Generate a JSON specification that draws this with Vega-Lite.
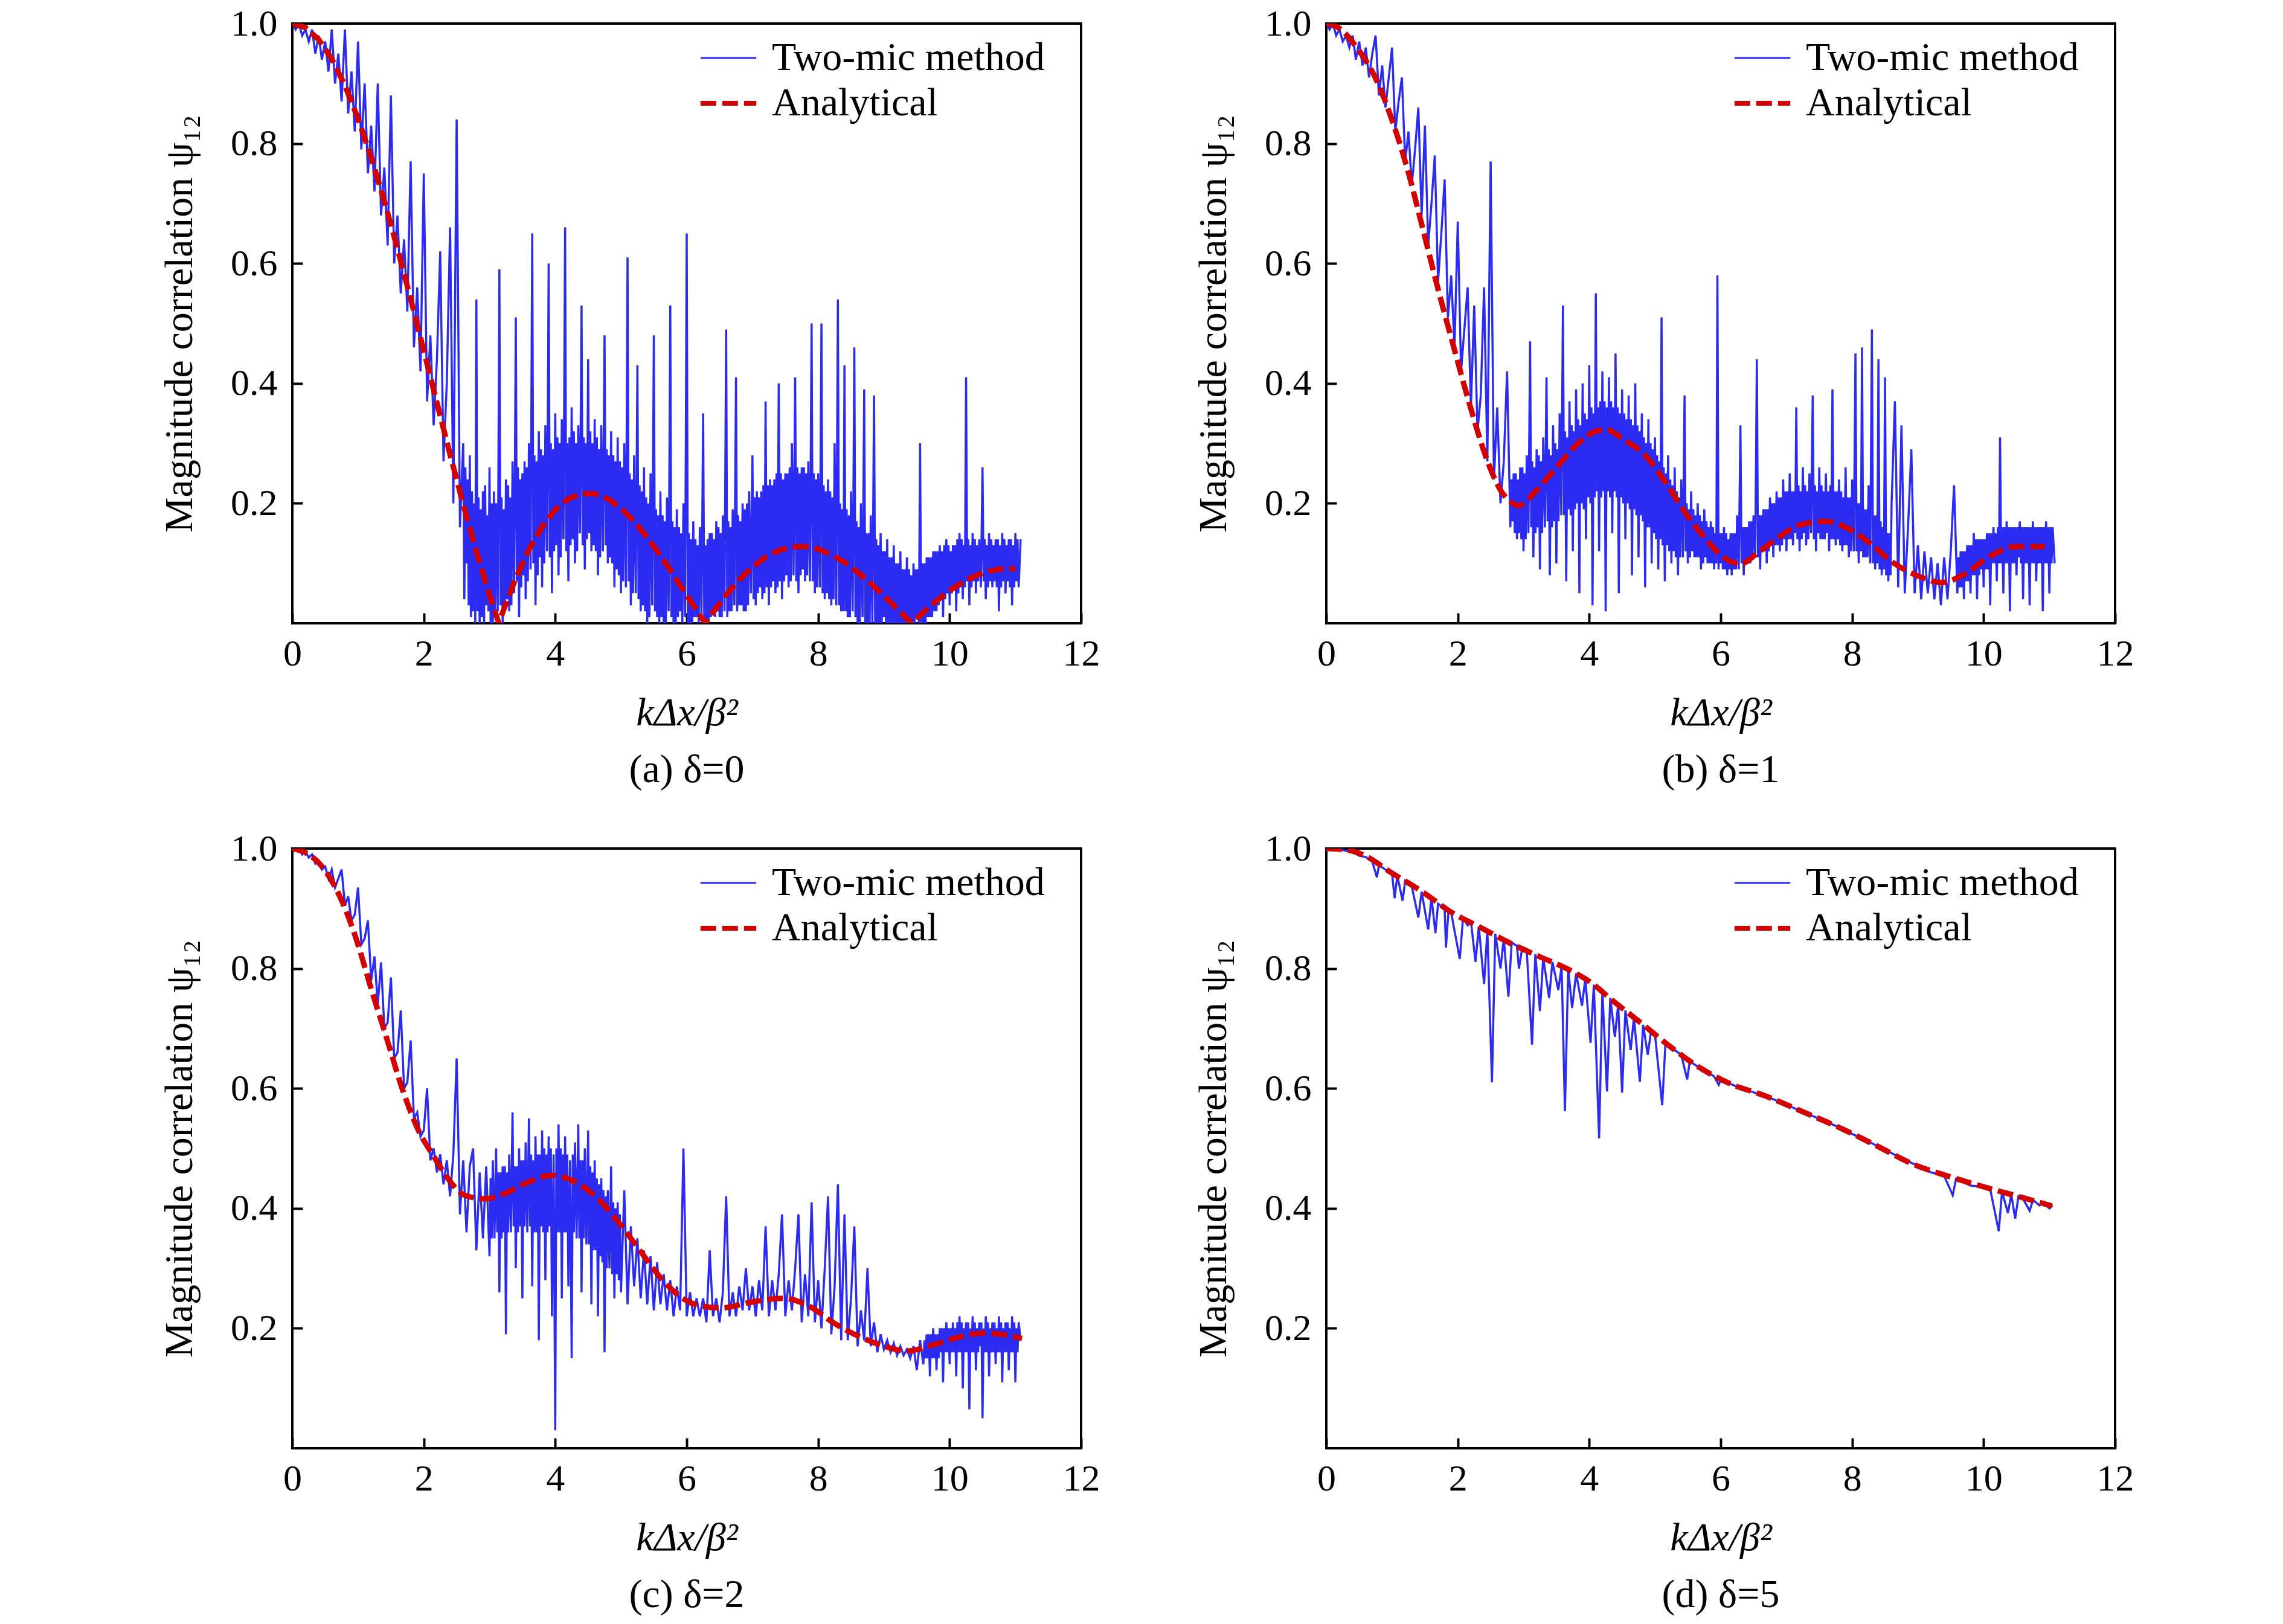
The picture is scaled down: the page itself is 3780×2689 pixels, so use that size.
{
"$schema": "https://vega.github.io/schema/vega-lite/v6.json",
"background": "white",
"padding": {"left": 262, "top": 6, "right": 0, "bottom": 0},
"config": {
  "font": "Liberation Serif",
  "view": {"stroke": "black", "strokeWidth": 4},
  "axis": {"labelFont": "Liberation Serif", "labelFontSize": 62, "labelColor": "black", "titleFont": "Liberation Serif", "titleFontSize": 66, "titleFontWeight": "normal", "titleColor": "black", "domain": false, "grid": false, "ticks": true, "tickSize": -17, "tickWidth": 4, "tickColor": "black", "labelFlush": false},
  "axisX": {"labelPadding": 37, "titlePadding": 35},
  "axisY": {"labelPadding": 42, "titlePadding": 50},
  "title": {"font": "Liberation Serif", "fontSize": 66, "fontWeight": "normal", "color": "black", "orient": "bottom", "offset": 30},
  "legend": {"labelFont": "Liberation Serif", "labelFontSize": 66, "labelColor": "black", "padding": 0, "labelLimit": 2000}
},
"datasets": {
"a_two": [{"x":0,"y":1},{"x":0.05,"y":0.99},{"x":0.1,"y":1},{"x":0.15,"y":0.98},{"x":0.2,"y":0.99},{"x":0.25,"y":0.97},{"x":0.3,"y":0.99},{"x":0.35,"y":0.95},{"x":0.4,"y":0.98},{"x":0.45,"y":0.94},{"x":0.5,"y":0.97},{"x":0.55,"y":0.92},{"x":0.6,"y":0.99},{"x":0.65,"y":0.9},{"x":0.7,"y":0.95},{"x":0.75,"y":0.87},{"x":0.8,"y":0.99},{"x":0.85,"y":0.85},{"x":0.9,"y":0.92},{"x":0.95,"y":0.82},{"x":1,"y":0.97},{"x":1.05,"y":0.79},{"x":1.1,"y":0.9},{"x":1.15,"y":0.75},{"x":1.2,"y":0.83},{"x":1.25,"y":0.72},{"x":1.3,"y":0.9},{"x":1.35,"y":0.68},{"x":1.4,"y":0.76},{"x":1.45,"y":0.63},{"x":1.5,"y":0.88},{"x":1.55,"y":0.6},{"x":1.6,"y":0.68},{"x":1.65,"y":0.55},{"x":1.7,"y":0.64},{"x":1.75,"y":0.52},{"x":1.8,"y":0.77},{"x":1.85,"y":0.46},{"x":1.9,"y":0.56},{"x":1.95,"y":0.42},{"x":2,"y":0.75},{"x":2.05,"y":0.37},{"x":2.1,"y":0.48},{"x":2.15,"y":0.33},{"x":2.2,"y":0.44},{"x":2.25,"y":0.62},{"x":2.3,"y":0.27},{"x":2.35,"y":0.4},{"x":2.4,"y":0.66},{"x":2.45,"y":0.2},{"x":2.5,"y":0.84},{"x":2.55,"y":0.16},{"x":2.6,"y":0.3},{"x":2.65,"y":0.1},{"x":2.7,"y":0.28},{"x":2.75,"y":0.02},{"x":2.8,"y":0.54},{"x":2.85,"y":0},{"x":2.9,"y":0.22},{"x":2.95,"y":0.03},{"x":3,"y":0.26},{"x":3.05,"y":0},{"x":3.1,"y":0.2},{"x":3.15,"y":0.59},{"x":3.2,"y":0},{"x":3.25,"y":0.24},{"x":3.3,"y":0.02},{"x":3.35,"y":0.27},{"x":3.4,"y":0.51},{"x":3.45,"y":0.01},{"x":3.5,"y":0.25},{"x":3.55,"y":0.04},{"x":3.6,"y":0.3},{"x":3.65,"y":0.65},{"x":3.7,"y":0.03},{"x":3.75,"y":0.32},{"x":3.8,"y":0.06},{"x":3.85,"y":0.33},{"x":3.9,"y":0.6},{"x":3.95,"y":0.05},{"x":4,"y":0.35},{"x":4.05,"y":0.08},{"x":4.1,"y":0.34},{"x":4.15,"y":0.66},{"x":4.2,"y":0.07},{"x":4.25,"y":0.36},{"x":4.3,"y":0.1},{"x":4.35,"y":0.33},{"x":4.4,"y":0.53},{"x":4.45,"y":0.09},{"x":4.5,"y":0.44},{"x":4.55,"y":0.12},{"x":4.6,"y":0.34},{"x":4.65,"y":0.08},{"x":4.7,"y":0.33},{"x":4.75,"y":0.48},{"x":4.8,"y":0.1},{"x":4.85,"y":0.32},{"x":4.9,"y":0.06},{"x":4.95,"y":0.31},{"x":5,"y":0.05},{"x":5.05,"y":0.3},{"x":5.1,"y":0.61},{"x":5.15,"y":0.03},{"x":5.2,"y":0.28},{"x":5.25,"y":0.43},{"x":5.3,"y":0.02},{"x":5.35,"y":0.26},{"x":5.4,"y":0},{"x":5.45,"y":0.25},{"x":5.5,"y":0.48},{"x":5.55,"y":0.01},{"x":5.6,"y":0.22},{"x":5.65,"y":0},{"x":5.7,"y":0.21},{"x":5.75,"y":0.53},{"x":5.8,"y":0},{"x":5.85,"y":0.19},{"x":5.9,"y":0.02},{"x":5.95,"y":0.2},{"x":6,"y":0.65},{"x":6.05,"y":0},{"x":6.1,"y":0.17},{"x":6.15,"y":0.01},{"x":6.2,"y":0.16},{"x":6.25,"y":0.35},{"x":6.3,"y":0},{"x":6.35,"y":0.15},{"x":6.4,"y":0.02},{"x":6.45,"y":0.17},{"x":6.5,"y":0.01},{"x":6.55,"y":0.18},{"x":6.6,"y":0.49},{"x":6.65,"y":0.02},{"x":6.7,"y":0.19},{"x":6.75,"y":0.41},{"x":6.8,"y":0.03},{"x":6.85,"y":0.2},{"x":6.9,"y":0.02},{"x":6.95,"y":0.22},{"x":7,"y":0.28},{"x":7.05,"y":0.03},{"x":7.1,"y":0.21},{"x":7.15,"y":0.04},{"x":7.2,"y":0.37},{"x":7.25,"y":0.03},{"x":7.3,"y":0.23},{"x":7.35,"y":0.05},{"x":7.4,"y":0.4},{"x":7.45,"y":0.04},{"x":7.5,"y":0.25},{"x":7.55,"y":0.06},{"x":7.6,"y":0.3},{"x":7.65,"y":0.41},{"x":7.7,"y":0.05},{"x":7.75,"y":0.26},{"x":7.8,"y":0.07},{"x":7.85,"y":0.27},{"x":7.9,"y":0.5},{"x":7.95,"y":0.05},{"x":8,"y":0.25},{"x":8.05,"y":0.5},{"x":8.1,"y":0.04},{"x":8.15,"y":0.24},{"x":8.2,"y":0.03},{"x":8.25,"y":0.3},{"x":8.3,"y":0.54},{"x":8.35,"y":0.02},{"x":8.4,"y":0.43},{"x":8.45,"y":0.01},{"x":8.5,"y":0.22},{"x":8.55,"y":0.46},{"x":8.6,"y":0},{"x":8.65,"y":0.2},{"x":8.7,"y":0.39},{"x":8.75,"y":0},{"x":8.8,"y":0.18},{"x":8.85,"y":0.38},{"x":8.9,"y":0},{"x":8.95,"y":0.15},{"x":9,"y":0.01},{"x":9.05,"y":0.14},{"x":9.1,"y":0},{"x":9.15,"y":0.13},{"x":9.2,"y":0},{"x":9.25,"y":0.12},{"x":9.3,"y":0},{"x":9.35,"y":0.11},{"x":9.4,"y":0},{"x":9.45,"y":0.1},{"x":9.5,"y":0.01},{"x":9.55,"y":0.3},{"x":9.6,"y":0},{"x":9.65,"y":0.11},{"x":9.7,"y":0.01},{"x":9.75,"y":0.12},{"x":9.8,"y":0.02},{"x":9.85,"y":0.13},{"x":9.9,"y":0.01},{"x":9.95,"y":0.14},{"x":10,"y":0.03},{"x":10.05,"y":0.13},{"x":10.1,"y":0.02},{"x":10.15,"y":0.15},{"x":10.2,"y":0.04},{"x":10.25,"y":0.41},{"x":10.3,"y":0.03},{"x":10.35,"y":0.15},{"x":10.4,"y":0.05},{"x":10.45,"y":0.14},{"x":10.5,"y":0.26},{"x":10.55,"y":0.04},{"x":10.6,"y":0.15},{"x":10.65,"y":0.06},{"x":10.7,"y":0.14},{"x":10.75,"y":0.02},{"x":10.8,"y":0.15},{"x":10.85,"y":0.05},{"x":10.9,"y":0.14},{"x":10.95,"y":0.03},{"x":11,"y":0.15},{"x":11.05,"y":0.06},{"x":11.08,"y":0.14},
{"x":2.617,"y":0.04},{"x":2.633,"y":0.26},{"x":2.667,"y":0.24},{"x":2.683,"y":0.03},{"x":2.717,"y":0.01},{"x":2.733,"y":0.22},{"x":2.767,"y":0.2},{"x":2.783,"y":0},{"x":2.817,"y":0.02},{"x":2.833,"y":0.21},{"x":2.867,"y":0.19},{"x":2.883,"y":0.01},{"x":2.917,"y":0},{"x":2.933,"y":0.23},{"x":2.967,"y":0.18},{"x":2.983,"y":0.02},{"x":3.017,"y":0},{"x":3.033,"y":0.2},{"x":3.067,"y":0.22},{"x":3.083,"y":0.01},{"x":3.125,"y":0.02},{"x":3.167,"y":0.03},{"x":3.183,"y":0.21},{"x":3.217,"y":0.19},{"x":3.233,"y":0.02},{"x":3.267,"y":0.04},{"x":3.283,"y":0.23},{"x":3.317,"y":0.21},{"x":3.333,"y":0.03},{"x":3.375,"y":0.05},{"x":3.417,"y":0.07},{"x":3.433,"y":0.26},{"x":3.467,"y":0.24},{"x":3.483,"y":0.06},{"x":3.517,"y":0.08},{"x":3.533,"y":0.27},{"x":3.567,"y":0.26},{"x":3.583,"y":0.07},{"x":3.625,"y":0.09},{"x":3.667,"y":0.1},{"x":3.683,"y":0.28},{"x":3.717,"y":0.27},{"x":3.733,"y":0.08},{"x":3.767,"y":0.11},{"x":3.783,"y":0.29},{"x":3.817,"y":0.28},{"x":3.833,"y":0.1},{"x":3.875,"y":0.12},{"x":3.917,"y":0.11},{"x":3.933,"y":0.3},{"x":3.967,"y":0.29},{"x":3.983,"y":0.12},{"x":4.017,"y":0.13},{"x":4.033,"y":0.31},{"x":4.067,"y":0.3},{"x":4.083,"y":0.11},{"x":4.125,"y":0.14},{"x":4.167,"y":0.12},{"x":4.183,"y":0.3},{"x":4.217,"y":0.31},{"x":4.233,"y":0.13},{"x":4.267,"y":0.14},{"x":4.283,"y":0.32},{"x":4.317,"y":0.3},{"x":4.333,"y":0.12},{"x":4.375,"y":0.15},{"x":4.417,"y":0.13},{"x":4.433,"y":0.31},{"x":4.467,"y":0.3},{"x":4.483,"y":0.14},{"x":4.517,"y":0.15},{"x":4.533,"y":0.32},{"x":4.567,"y":0.3},{"x":4.583,"y":0.13},{"x":4.617,"y":0.12},{"x":4.633,"y":0.31},{"x":4.667,"y":0.29},{"x":4.683,"y":0.11},{"x":4.725,"y":0.12},{"x":4.767,"y":0.13},{"x":4.783,"y":0.29},{"x":4.817,"y":0.28},{"x":4.833,"y":0.11},{"x":4.867,"y":0.1},{"x":4.883,"y":0.28},{"x":4.917,"y":0.27},{"x":4.933,"y":0.09},{"x":4.967,"y":0.08},{"x":4.983,"y":0.27},{"x":5.017,"y":0.26},{"x":5.033,"y":0.07},{"x":5.075,"y":0.06},{"x":5.117,"y":0.07},{"x":5.133,"y":0.25},{"x":5.167,"y":0.24},{"x":5.183,"y":0.05},{"x":5.225,"y":0.05},{"x":5.267,"y":0.04},{"x":5.283,"y":0.23},{"x":5.317,"y":0.22},{"x":5.333,"y":0.03},{"x":5.367,"y":0.02},{"x":5.383,"y":0.21},
{"x":5.417,"y":0.2},{"x":5.433,"y":0.01},{"x":5.475,"y":0.03},{"x":5.517,"y":0.02},{"x":5.533,"y":0.19},{"x":5.567,"y":0.18},{"x":5.583,"y":0},{"x":5.617,"y":0.01},{"x":5.633,"y":0.18},{"x":5.667,"y":0.17},{"x":5.683,"y":0},{"x":5.725,"y":0.02},{"x":5.767,"y":0.01},{"x":5.783,"y":0.17},{"x":5.817,"y":0.16},{"x":5.833,"y":0},{"x":5.867,"y":0.01},{"x":5.883,"y":0.16},{"x":5.917,"y":0.15},{"x":5.933,"y":0},{"x":5.975,"y":0.01},{"x":6.017,"y":0},{"x":6.033,"y":0.15},{"x":6.067,"y":0.14},{"x":6.083,"y":0},{"x":6.117,"y":0.01},{"x":6.133,"y":0.14},{"x":6.167,"y":0.13},{"x":6.183,"y":0},{"x":6.225,"y":0.01},{"x":6.267,"y":0},{"x":6.283,"y":0.13},{"x":6.317,"y":0.14},{"x":6.333,"y":0},{"x":6.367,"y":0.01},{"x":6.383,"y":0.15},{"x":6.417,"y":0.14},{"x":6.433,"y":0.01},{"x":6.467,"y":0.02},{"x":6.483,"y":0.16},{"x":6.517,"y":0.15},{"x":6.533,"y":0.01},{"x":6.575,"y":0.02},{"x":6.617,"y":0.01},{"x":6.633,"y":0.17},{"x":6.667,"y":0.16},{"x":6.683,"y":0.02},{"x":6.725,"y":0.03},{"x":6.767,"y":0.02},{"x":6.783,"y":0.18},{"x":6.817,"y":0.17},{"x":6.833,"y":0.03},{"x":6.867,"y":0.02},{"x":6.883,"y":0.19},
{"x":6.917,"y":0.2},{"x":6.933,"y":0.03},{"x":6.975,"y":0.05},{"x":7.017,"y":0.04},{"x":7.033,"y":0.21},{"x":7.067,"y":0.22},{"x":7.083,"y":0.05},{"x":7.117,"y":0.06},{"x":7.133,"y":0.22},{"x":7.167,"y":0.23},{"x":7.183,"y":0.05},{"x":7.217,"y":0.06},{"x":7.233,"y":0.23},{"x":7.267,"y":0.24},{"x":7.283,"y":0.06},{"x":7.317,"y":0.07},{"x":7.333,"y":0.24},{"x":7.367,"y":0.25},{"x":7.383,"y":0.06},{"x":7.417,"y":0.07},{"x":7.433,"y":0.25},{"x":7.467,"y":0.24},{"x":7.483,"y":0.07},{"x":7.517,"y":0.08},{"x":7.533,"y":0.25},{"x":7.567,"y":0.26},{"x":7.583,"y":0.07},{"x":7.625,"y":0.08},{"x":7.667,"y":0.07},{"x":7.683,"y":0.26},{"x":7.717,"y":0.25},{"x":7.733,"y":0.08},{"x":7.767,"y":0.09},{"x":7.783,"y":0.26},{"x":7.817,"y":0.25},{"x":7.833,"y":0.08},{"x":7.875,"y":0.07},{"x":7.917,"y":0.07},{"x":7.933,"y":0.25},{"x":7.967,"y":0.24},{"x":7.983,"y":0.06},{"x":8.025,"y":0.06},{"x":8.067,"y":0.05},{"x":8.083,"y":0.23},{"x":8.117,"y":0.22},{"x":8.133,"y":0.05},{"x":8.167,"y":0.04},{"x":8.183,"y":0.22},{"x":8.217,"y":0.21},{"x":8.233,"y":0.04},{"x":8.275,"y":0.03},{"x":8.317,"y":0.03},{"x":8.333,"y":0.2},{"x":8.367,"y":0.19},{"x":8.383,"y":0.02},{"x":8.417,"y":0.02},{"x":8.433,"y":0.19},{"x":8.467,"y":0.18},{"x":8.483,"y":0.01},{"x":8.525,"y":0.02},{"x":8.567,"y":0.01},{"x":8.583,"y":0.17},
{"x":8.617,"y":0.16},{"x":8.633,"y":0},{"x":8.675,"y":0.01},{"x":8.717,"y":0},{"x":8.733,"y":0.15},{"x":8.767,"y":0.15},{"x":8.783,"y":0},{"x":8.825,"y":0},{"x":8.867,"y":0},{"x":8.883,"y":0.14},{"x":8.917,"y":0.13},{"x":8.933,"y":0},{"x":8.967,"y":0},{"x":8.983,"y":0.12},{"x":9.017,"y":0.12},{"x":9.033,"y":0},{"x":9.067,"y":0},{"x":9.083,"y":0.11},{"x":9.117,"y":0.11},{"x":9.133,"y":0},{"x":9.167,"y":0},{"x":9.183,"y":0.1},{"x":9.217,"y":0.1},{"x":9.233,"y":0},{"x":9.267,"y":0},{"x":9.283,"y":0.09},{"x":9.317,"y":0.09},{"x":9.333,"y":0},{"x":9.367,"y":0},{"x":9.383,"y":0.09},{"x":9.417,"y":0.08},{"x":9.433,"y":0},{"x":9.467,"y":0},{"x":9.483,"y":0.09},{"x":9.517,"y":0.09},{"x":9.533,"y":0},{"x":9.567,"y":0},{"x":9.583,"y":0.1},{"x":9.617,"y":0.1},{"x":9.633,"y":0},{"x":9.667,"y":0.01},{"x":9.683,"y":0.11},{"x":9.717,"y":0.11},{"x":9.733,"y":0.01},{"x":9.767,"y":0.02},{"x":9.783,"y":0.12},
{"x":9.817,"y":0.12},{"x":9.833,"y":0.03},{"x":9.867,"y":0.04},{"x":9.883,"y":0.12},{"x":9.917,"y":0.13},{"x":9.933,"y":0.04},{"x":9.967,"y":0.05},{"x":9.983,"y":0.13},{"x":10.017,"y":0.12},{"x":10.033,"y":0.05},{"x":10.067,"y":0.06},{"x":10.083,"y":0.13},{"x":10.117,"y":0.14},{"x":10.133,"y":0.05},{"x":10.167,"y":0.06},{"x":10.183,"y":0.14},{"x":10.217,"y":0.13},{"x":10.233,"y":0.06},{"x":10.267,"y":0.07},{"x":10.283,"y":0.14},{"x":10.317,"y":0.13},{"x":10.333,"y":0.06},{"x":10.367,"y":0.07},{"x":10.383,"y":0.14},{"x":10.417,"y":0.13},{"x":10.433,"y":0.07},{"x":10.475,"y":0.06},{"x":10.517,"y":0.07},{"x":10.533,"y":0.14},{"x":10.567,"y":0.13},{"x":10.583,"y":0.06},{"x":10.617,"y":0.07},{"x":10.633,"y":0.14},{"x":10.667,"y":0.13},{"x":10.683,"y":0.07},{"x":10.717,"y":0.06},{"x":10.733,"y":0.14},{"x":10.767,"y":0.13},{"x":10.783,"y":0.06},{"x":10.817,"y":0.07},{"x":10.833,"y":0.14},{"x":10.867,"y":0.13},{"x":10.883,"y":0.07},{"x":10.917,"y":0.06},{"x":10.933,"y":0.14},{"x":10.967,"y":0.13},{"x":10.983,"y":0.06},{"x":11.017,"y":0.07},{"x":11.033,"y":0.14}],
"a_ana": [{"x":0,"y":1},{"x":0.2,"y":0.9933},{"x":0.4,"y":0.9735},{"x":0.6,"y":0.9411},{"x":0.8,"y":0.8967},{"x":1,"y":0.8415},{"x":1.2,"y":0.7767},{"x":1.4,"y":0.7039},{"x":1.6,"y":0.6247},{"x":1.8,"y":0.541},{"x":2,"y":0.4546},{"x":2.2,"y":0.3675},{"x":2.4,"y":0.2814},{"x":2.6,"y":0.1983},{"x":2.8,"y":0.1196},{"x":3,"y":0.047},{"x":3.1416,"y":0},{"x":3.2,"y":0.0182},{"x":3.4,"y":0.0751},{"x":3.6,"y":0.1229},{"x":3.8,"y":0.161},{"x":4,"y":0.1892},{"x":4.2,"y":0.2075},{"x":4.4,"y":0.2163},{"x":4.6,"y":0.216},{"x":4.8,"y":0.2075},{"x":5,"y":0.1918},{"x":5.2,"y":0.1699},{"x":5.4,"y":0.1431},{"x":5.6,"y":0.1127},{"x":5.8,"y":0.0801},{"x":6,"y":0.0466},{"x":6.2,"y":0.0134},{"x":6.2832,"y":0},{"x":6.4,"y":0.0182},{"x":6.6,"y":0.0472},{"x":6.8,"y":0.0727},{"x":7,"y":0.0939},{"x":7.2,"y":0.1102},{"x":7.4,"y":0.1214},{"x":7.6,"y":0.1274},{"x":7.8,"y":0.128},{"x":8,"y":0.1237},{"x":8.2,"y":0.1147},{"x":8.4,"y":0.1017},{"x":8.6,"y":0.0854},{"x":8.8,"y":0.0665},{"x":9,"y":0.0458},{"x":9.2,"y":0.0242},{"x":9.4,"y":0.0026},{"x":9.4248,"y":0},{"x":9.6,"y":0.0182},{"x":9.8,"y":0.0374},{"x":10,"y":0.0544},{"x":10.2,"y":0.0686},{"x":10.4,"y":0.0796},{"x":10.6,"y":0.0871},{"x":10.8,"y":0.0908},{"x":11,"y":0.0909}],
"b_two": [{"x":0,"y":1},{"x":0.05,"y":0.99},{"x":0.1,"y":1},{"x":0.15,"y":0.98},{"x":0.2,"y":0.99},{"x":0.25,"y":0.97},{"x":0.3,"y":0.98},{"x":0.35,"y":0.96},{"x":0.4,"y":0.98},{"x":0.45,"y":0.94},{"x":0.5,"y":0.97},{"x":0.55,"y":0.93},{"x":0.6,"y":0.96},{"x":0.65,"y":0.91},{"x":0.7,"y":0.95},{"x":0.75,"y":0.98},{"x":0.8,"y":0.88},{"x":0.85,"y":0.93},{"x":0.9,"y":0.86},{"x":0.95,"y":0.91},{"x":1,"y":0.96},{"x":1.05,"y":0.82},{"x":1.1,"y":0.87},{"x":1.15,"y":0.91},{"x":1.2,"y":0.77},{"x":1.25,"y":0.82},{"x":1.3,"y":0.73},{"x":1.35,"y":0.79},{"x":1.4,"y":0.86},{"x":1.45,"y":0.68},{"x":1.5,"y":0.83},{"x":1.55,"y":0.63},{"x":1.6,"y":0.7},{"x":1.65,"y":0.78},{"x":1.7,"y":0.57},{"x":1.75,"y":0.65},{"x":1.8,"y":0.74},{"x":1.85,"y":0.51},{"x":1.9,"y":0.58},{"x":1.95,"y":0.46},{"x":2,"y":0.67},{"x":2.05,"y":0.42},{"x":2.1,"y":0.49},{"x":2.15,"y":0.56},{"x":2.2,"y":0.36},{"x":2.25,"y":0.53},{"x":2.3,"y":0.32},{"x":2.35,"y":0.38},{"x":2.4,"y":0.56},{"x":2.45,"y":0.27},{"x":2.5,"y":0.77},{"x":2.55,"y":0.24},{"x":2.6,"y":0.36},{"x":2.65,"y":0.2},{"x":2.7,"y":0.27},{"x":2.75,"y":0.42},{"x":2.8,"y":0.16},{"x":2.85,"y":0.25},{"x":2.9,"y":0.14},{"x":2.95,"y":0.26},{"x":3,"y":0.12},{"x":3.05,"y":0.28},{"x":3.1,"y":0.47},{"x":3.15,"y":0.11},{"x":3.2,"y":0.29},{"x":3.25,"y":0.09},{"x":3.3,"y":0.31},{"x":3.35,"y":0.41},{"x":3.4,"y":0.08},{"x":3.45,"y":0.33},{"x":3.5,"y":0.1},{"x":3.55,"y":0.35},{"x":3.6,"y":0.53},{"x":3.65,"y":0.07},{"x":3.7,"y":0.37},{"x":3.75,"y":0.12},{"x":3.8,"y":0.39},{"x":3.85,"y":0.05},{"x":3.9,"y":0.4},{"x":3.95,"y":0.14},{"x":4,"y":0.43},{"x":4.05,"y":0.03},{"x":4.1,"y":0.55},{"x":4.15,"y":0.12},{"x":4.2,"y":0.42},{"x":4.25,"y":0.02},{"x":4.3,"y":0.41},{"x":4.35,"y":0.15},{"x":4.4,"y":0.45},{"x":4.45,"y":0.05},{"x":4.5,"y":0.39},{"x":4.55,"y":0.14},{"x":4.6,"y":0.38},{"x":4.65,"y":0.08},{"x":4.7,"y":0.4},{"x":4.75,"y":0.11},{"x":4.8,"y":0.35},{"x":4.85,"y":0.06},{"x":4.9,"y":0.34},{"x":4.95,"y":0.1},{"x":5,"y":0.31},{"x":5.05,"y":0.09},{"x":5.1,"y":0.51},{"x":5.15,"y":0.07},{"x":5.2,"y":0.28},{"x":5.25,"y":0.1},{"x":5.3,"y":0.26},{"x":5.35,"y":0.08},{"x":5.4,"y":0.24},{"x":5.45,"y":0.38},{"x":5.5,"y":0.1},{"x":5.55,"y":0.22},{"x":5.6,"y":0.11},{"x":5.65,"y":0.2},{"x":5.7,"y":0.09},{"x":5.75,"y":0.19},{"x":5.8,"y":0.1},{"x":5.85,"y":0.17},{"x":5.9,"y":0.09},{"x":5.95,"y":0.58},{"x":6,"y":0.1},{"x":6.05,"y":0.16},{"x":6.1,"y":0.08},{"x":6.15,"y":0.15},{"x":6.2,"y":0.09},{"x":6.25,"y":0.18},{"x":6.3,"y":0.33},{"x":6.35,"y":0.08},{"x":6.4,"y":0.16},{"x":6.45,"y":0.1},{"x":6.5,"y":0.18},{"x":6.55,"y":0.44},{"x":6.6,"y":0.09},{"x":6.65,"y":0.19},{"x":6.7,"y":0.1},{"x":6.75,"y":0.21},{"x":6.8,"y":0.11},{"x":6.85,"y":0.22},{"x":6.9,"y":0.12},{"x":6.95,"y":0.24},{"x":7,"y":0.12},{"x":7.05,"y":0.25},{"x":7.1,"y":0.13},{"x":7.15,"y":0.36},{"x":7.2,"y":0.12},{"x":7.25,"y":0.26},{"x":7.3,"y":0.13},{"x":7.35,"y":0.25},{"x":7.4,"y":0.38},{"x":7.45,"y":0.12},{"x":7.5,"y":0.26},{"x":7.55,"y":0.14},{"x":7.6,"y":0.25},{"x":7.65,"y":0.12},{"x":7.7,"y":0.39},{"x":7.75,"y":0.13},{"x":7.8,"y":0.24},{"x":7.85,"y":0.12},{"x":7.9,"y":0.26},{"x":7.95,"y":0.11},{"x":8,"y":0.24},{"x":8.05,"y":0.45},{"x":8.1,"y":0.1},{"x":8.15,"y":0.46},{"x":8.2,"y":0.11},{"x":8.25,"y":0.23},{"x":8.3,"y":0.49},{"x":8.35,"y":0.09},{"x":8.4,"y":0.44},{"x":8.45,"y":0.08},{"x":8.5,"y":0.41},{"x":8.55,"y":0.07},{"x":8.6,"y":0.2},{"x":8.65,"y":0.37},{"x":8.7,"y":0.06},{"x":8.75,"y":0.33},{"x":8.8,"y":0.05},{"x":8.85,"y":0.16},{"x":8.9,"y":0.29},{"x":8.95,"y":0.05},{"x":9,"y":0.13},{"x":9.05,"y":0.04},{"x":9.1,"y":0.12},{"x":9.15,"y":0.05},{"x":9.2,"y":0.11},{"x":9.25,"y":0.04},{"x":9.3,"y":0.1},{"x":9.35,"y":0.03},{"x":9.4,"y":0.11},{"x":9.45,"y":0.04},{"x":9.5,"y":0.12},{"x":9.55,"y":0.23},{"x":9.6,"y":0.05},{"x":9.65,"y":0.12},{"x":9.7,"y":0.04},{"x":9.75,"y":0.13},{"x":9.8,"y":0.05},{"x":9.85,"y":0.15},{"x":9.9,"y":0.04},{"x":9.95,"y":0.14},{"x":10,"y":0.06},{"x":10.05,"y":0.15},{"x":10.1,"y":0.03},{"x":10.15,"y":0.16},{"x":10.2,"y":0.07},{"x":10.25,"y":0.31},{"x":10.3,"y":0.05},{"x":10.35,"y":0.17},{"x":10.4,"y":0.02},{"x":10.45,"y":0.16},{"x":10.5,"y":0.08},{"x":10.55,"y":0.17},{"x":10.6,"y":0.04},{"x":10.65,"y":0.16},{"x":10.7,"y":0.03},{"x":10.75,"y":0.17},{"x":10.8,"y":0.07},{"x":10.85,"y":0.16},{"x":10.9,"y":0.02},{"x":10.95,"y":0.17},{"x":11,"y":0.05},{"x":11.05,"y":0.16},{"x":11.08,"y":0.1},
{"x":2.817,"y":0.24},{"x":2.833,"y":0.17},{"x":2.867,"y":0.15},{"x":2.883,"y":0.25},{"x":2.917,"y":0.24},{"x":2.933,"y":0.15},{"x":2.967,"y":0.14},{"x":2.983,"y":0.26},{"x":3.017,"y":0.25},{"x":3.033,"y":0.14},{"x":3.075,"y":0.15},{"x":3.117,"y":0.16},{"x":3.133,"y":0.27},{"x":3.167,"y":0.26},{"x":3.183,"y":0.15},{"x":3.217,"y":0.16},{"x":3.233,"y":0.28},{"x":3.267,"y":0.27},{"x":3.283,"y":0.15},{"x":3.325,"y":0.16},{"x":3.367,"y":0.17},{"x":3.383,"y":0.29},{"x":3.417,"y":0.28},{"x":3.433,"y":0.16},{"x":3.467,"y":0.17},{"x":3.483,"y":0.3},{"x":3.517,"y":0.29},{"x":3.533,"y":0.17},{"x":3.575,"y":0.18},{"x":3.617,"y":0.18},{"x":3.633,"y":0.32},{"x":3.667,"y":0.31},{"x":3.683,"y":0.19},{"x":3.717,"y":0.18},{"x":3.733,"y":0.33},{"x":3.767,"y":0.32},{"x":3.783,"y":0.19},{"x":3.817,"y":0.2},{"x":3.833,"y":0.34},{"x":3.867,"y":0.33},{"x":3.883,"y":0.2},{"x":3.917,"y":0.19},{"x":3.933,"y":0.35},{"x":3.967,"y":0.34},{"x":3.983,"y":0.21},{"x":4.017,"y":0.2},{"x":4.033,"y":0.36},{"x":4.067,"y":0.35},{"x":4.083,"y":0.21},{"x":4.117,"y":0.22},{"x":4.133,"y":0.36},{"x":4.167,"y":0.37},{"x":4.183,"y":0.21},{"x":4.217,"y":0.22},{"x":4.233,"y":0.37},{"x":4.267,"y":0.36},{"x":4.283,"y":0.22},{"x":4.317,"y":0.21},{"x":4.333,"y":0.37},{"x":4.367,"y":0.36},{"x":4.383,"y":0.22},{"x":4.417,"y":0.21},{"x":4.433,"y":0.36},{"x":4.467,"y":0.35},{"x":4.483,"y":0.21},{"x":4.517,"y":0.2},{"x":4.533,"y":0.35},{"x":4.567,"y":0.34},{"x":4.583,"y":0.2},{"x":4.617,"y":0.19},{"x":4.633,"y":0.34},{"x":4.667,"y":0.33},{"x":4.683,"y":0.19},{"x":4.717,"y":0.18},{"x":4.733,"y":0.33},{"x":4.767,"y":0.32},{"x":4.783,"y":0.18},{"x":4.817,"y":0.17},{"x":4.833,"y":0.31},{"x":4.867,"y":0.3},{"x":4.883,"y":0.16},{"x":4.917,"y":0.16},{"x":4.933,"y":0.3},{"x":4.967,"y":0.29},{"x":4.983,"y":0.15},{"x":5.017,"y":0.14},{"x":5.033,"y":0.28},{"x":5.067,"y":0.27},{"x":5.083,"y":0.14},{"x":5.117,"y":0.13},{"x":5.133,"y":0.26},{"x":5.167,"y":0.25},{"x":5.183,"y":0.13},{"x":5.217,"y":0.12},{"x":5.233,"y":0.24},{"x":5.267,"y":0.23},{"x":5.283,"y":0.12},{"x":5.317,"y":0.11},{"x":5.333,"y":0.22},{"x":5.367,"y":0.21},{"x":5.383,"y":0.11},{"x":5.425,"y":0.11},{"x":5.467,"y":0.12},{"x":5.483,"y":0.2},{"x":5.517,"y":0.19},{"x":5.533,"y":0.11},{"x":5.567,"y":0.12},{"x":5.583,"y":0.19},{"x":5.617,"y":0.18},{"x":5.633,"y":0.11},{"x":5.667,"y":0.11},{"x":5.683,"y":0.18},{"x":5.717,"y":0.17},{"x":5.733,"y":0.1},{"x":5.767,"y":0.11},{"x":5.783,"y":0.17},{"x":5.817,"y":0.16},{"x":5.833,"y":0.1},{"x":5.867,"y":0.1},{"x":5.883,"y":0.16},{"x":5.917,"y":0.15},{"x":5.933,"y":0.1},{"x":5.967,"y":0.09},{"x":5.983,"y":0.15},
{"x":6.017,"y":0.15},{"x":6.033,"y":0.09},{"x":6.067,"y":0.09},{"x":6.083,"y":0.15},{"x":6.117,"y":0.14},{"x":6.133,"y":0.09},{"x":6.167,"y":0.08},{"x":6.183,"y":0.15},{"x":6.217,"y":0.15},{"x":6.233,"y":0.09},{"x":6.275,"y":0.09},{"x":6.317,"y":0.1},{"x":6.333,"y":0.16},{"x":6.367,"y":0.16},{"x":6.383,"y":0.1},{"x":6.417,"y":0.1},{"x":6.433,"y":0.17},{"x":6.467,"y":0.17},{"x":6.483,"y":0.11},{"x":6.525,"y":0.11},{"x":6.567,"y":0.11},{"x":6.583,"y":0.18},{"x":6.617,"y":0.18},{"x":6.633,"y":0.12},{"x":6.667,"y":0.12},{"x":6.683,"y":0.19},{"x":6.717,"y":0.19},{"x":6.733,"y":0.12},{"x":6.767,"y":0.13},{"x":6.783,"y":0.2},{"x":6.817,"y":0.2},{"x":6.833,"y":0.13},{"x":6.867,"y":0.13},{"x":6.883,"y":0.21},{"x":6.917,"y":0.21},{"x":6.933,"y":0.13},{"x":6.967,"y":0.14},{"x":6.983,"y":0.22},{"x":7.017,"y":0.22},{"x":7.033,"y":0.14},{"x":7.067,"y":0.14},{"x":7.083,"y":0.22},{"x":7.117,"y":0.22},{"x":7.133,"y":0.15},{"x":7.167,"y":0.14},{"x":7.183,"y":0.23},{"x":7.217,"y":0.22},{"x":7.233,"y":0.14},{"x":7.267,"y":0.15},{"x":7.283,"y":0.23},{"x":7.317,"y":0.22},{"x":7.333,"y":0.14},{"x":7.375,"y":0.15},{"x":7.417,"y":0.14},{"x":7.433,"y":0.23},{"x":7.467,"y":0.22},{"x":7.483,"y":0.15},{"x":7.517,"y":0.14},{"x":7.533,"y":0.23},{"x":7.567,"y":0.22},{"x":7.583,"y":0.14},{"x":7.617,"y":0.15},{"x":7.633,"y":0.22},{"x":7.667,"y":0.23},{"x":7.683,"y":0.14},{"x":7.717,"y":0.14},{"x":7.733,"y":0.22},{"x":7.767,"y":0.22},{"x":7.783,"y":0.14},{"x":7.817,"y":0.13},{"x":7.833,"y":0.22},{"x":7.867,"y":0.21},{"x":7.883,"y":0.13},{"x":7.917,"y":0.13},{"x":7.933,"y":0.21},{"x":7.967,"y":0.21},{"x":7.983,"y":0.12},{"x":8.025,"y":0.12},{"x":8.067,"y":0.12},{"x":8.083,"y":0.2},{"x":8.117,"y":0.2},{"x":8.133,"y":0.12},{"x":8.167,"y":0.11},{"x":8.183,"y":0.19},{"x":8.217,"y":0.19},{"x":8.233,"y":0.11},{"x":8.275,"y":0.1},{"x":8.317,"y":0.1},{"x":8.333,"y":0.18},{"x":8.367,"y":0.18},{"x":8.383,"y":0.1},{"x":8.417,"y":0.09},{"x":8.433,"y":0.17},{"x":8.467,"y":0.16},{"x":8.483,"y":0.09},{"x":8.517,"y":0.08},{"x":8.533,"y":0.15},{"x":8.567,"y":0.15},{"x":8.583,"y":0.08},
{"x":9.617,"y":0.11},{"x":9.633,"y":0.06},{"x":9.667,"y":0.06},{"x":9.683,"y":0.12},{"x":9.717,"y":0.12},{"x":9.733,"y":0.07},{"x":9.767,"y":0.07},{"x":9.783,"y":0.13},{"x":9.817,"y":0.13},{"x":9.833,"y":0.08},{"x":9.867,"y":0.08},{"x":9.883,"y":0.14},{"x":9.917,"y":0.14},{"x":9.933,"y":0.08},{"x":9.967,"y":0.09},{"x":9.983,"y":0.14},{"x":10.017,"y":0.14},{"x":10.033,"y":0.09},{"x":10.067,"y":0.09},{"x":10.083,"y":0.15},{"x":10.117,"y":0.15},{"x":10.133,"y":0.1},{"x":10.167,"y":0.1},{"x":10.183,"y":0.15},{"x":10.217,"y":0.16},{"x":10.233,"y":0.1},{"x":10.267,"y":0.1},{"x":10.283,"y":0.16},{"x":10.317,"y":0.16},{"x":10.333,"y":0.1},{"x":10.367,"y":0.1},{"x":10.383,"y":0.16},{"x":10.417,"y":0.16},{"x":10.433,"y":0.1},{"x":10.467,"y":0.1},{"x":10.483,"y":0.16},{"x":10.517,"y":0.16},{"x":10.533,"y":0.11},{"x":10.567,"y":0.1},{"x":10.583,"y":0.16},{"x":10.617,"y":0.16},{"x":10.633,"y":0.1},{"x":10.667,"y":0.1},{"x":10.683,"y":0.16},{"x":10.717,"y":0.16},{"x":10.733,"y":0.1},{"x":10.767,"y":0.1},{"x":10.783,"y":0.16},{"x":10.817,"y":0.16},{"x":10.833,"y":0.1},{"x":10.867,"y":0.1},{"x":10.883,"y":0.16},{"x":10.917,"y":0.16},{"x":10.933,"y":0.1},{"x":10.967,"y":0.1},{"x":10.983,"y":0.16},{"x":11.017,"y":0.16},{"x":11.033,"y":0.1}],
"b_ana": [{"x":0,"y":1},{"x":0.2,"y":0.992},{"x":0.45,"y":0.962},{"x":0.77,"y":0.904},{"x":1,"y":0.839},{"x":1.24,"y":0.755},{"x":1.47,"y":0.657},{"x":1.71,"y":0.553},{"x":1.95,"y":0.456},{"x":2.18,"y":0.365},{"x":2.42,"y":0.28},{"x":2.65,"y":0.222},{"x":2.8,"y":0.203},{"x":2.93,"y":0.196},{"x":3.05,"y":0.205},{"x":3.2,"y":0.222},{"x":3.51,"y":0.261},{"x":3.83,"y":0.3},{"x":4.05,"y":0.318},{"x":4.25,"y":0.323},{"x":4.53,"y":0.306},{"x":4.85,"y":0.28},{"x":5.16,"y":0.235},{"x":5.47,"y":0.183},{"x":5.79,"y":0.138},{"x":6.02,"y":0.112},{"x":6.3,"y":0.099},{"x":6.57,"y":0.118},{"x":6.89,"y":0.144},{"x":7.2,"y":0.164},{"x":7.59,"y":0.17},{"x":7.9,"y":0.16},{"x":8.3,"y":0.131},{"x":8.61,"y":0.102},{"x":9,"y":0.079},{"x":9.36,"y":0.068},{"x":9.71,"y":0.082},{"x":10.1,"y":0.112},{"x":10.5,"y":0.128},{"x":10.93,"y":0.128}],
"c_two": [{"x":0,"y":1},{"x":0.05,"y":0.998},{"x":0.1,"y":1},{"x":0.15,"y":0.99},{"x":0.2,"y":0.995},{"x":0.25,"y":0.985},{"x":0.3,"y":0.99},{"x":0.35,"y":0.975},{"x":0.4,"y":0.98},{"x":0.45,"y":0.965},{"x":0.5,"y":0.97},{"x":0.55,"y":0.95},{"x":0.6,"y":0.965},{"x":0.65,"y":0.935},{"x":0.7,"y":0.95},{"x":0.75,"y":0.965},{"x":0.8,"y":0.905},{"x":0.85,"y":0.92},{"x":0.9,"y":0.88},{"x":0.95,"y":0.89},{"x":1,"y":0.935},{"x":1.05,"y":0.84},{"x":1.1,"y":0.85},{"x":1.15,"y":0.88},{"x":1.2,"y":0.78},{"x":1.25,"y":0.82},{"x":1.3,"y":0.74},{"x":1.35,"y":0.81},{"x":1.4,"y":0.7},{"x":1.45,"y":0.71},{"x":1.5,"y":0.785},{"x":1.55,"y":0.65},{"x":1.6,"y":0.66},{"x":1.65,"y":0.73},{"x":1.7,"y":0.6},{"x":1.75,"y":0.61},{"x":1.8,"y":0.68},{"x":1.85,"y":0.55},{"x":1.9,"y":0.56},{"x":1.95,"y":0.52},{"x":2,"y":0.53},{"x":2.05,"y":0.6},{"x":2.1,"y":0.48},{"x":2.15,"y":0.5},{"x":2.2,"y":0.46},{"x":2.25,"y":0.49},{"x":2.3,"y":0.44},{"x":2.35,"y":0.48},{"x":2.4,"y":0.42},{"x":2.45,"y":0.49},{"x":2.5,"y":0.65},{"x":2.55,"y":0.39},{"x":2.6,"y":0.48},{"x":2.65,"y":0.36},{"x":2.7,"y":0.47},{"x":2.75,"y":0.5},{"x":2.8,"y":0.33},{"x":2.85,"y":0.46},{"x":2.9,"y":0.35},{"x":2.95,"y":0.47},{"x":3,"y":0.32},{"x":3.05,"y":0.48},{"x":3.1,"y":0.5},{"x":3.15,"y":0.26},{"x":3.2,"y":0.47},{"x":3.25,"y":0.19},{"x":3.3,"y":0.49},{"x":3.35,"y":0.56},{"x":3.4,"y":0.3},{"x":3.45,"y":0.5},{"x":3.5,"y":0.25},{"x":3.55,"y":0.51},{"x":3.6,"y":0.55},{"x":3.65,"y":0.27},{"x":3.7,"y":0.52},{"x":3.75,"y":0.18},{"x":3.8,"y":0.53},{"x":3.85,"y":0.28},{"x":3.9,"y":0.52},{"x":3.95,"y":0.22},{"x":4,"y":0.03},{"x":4.05,"y":0.54},{"x":4.1,"y":0.25},{"x":4.15,"y":0.52},{"x":4.2,"y":0.27},{"x":4.25,"y":0.15},{"x":4.3,"y":0.51},{"x":4.35,"y":0.54},{"x":4.4,"y":0.26},{"x":4.45,"y":0.5},{"x":4.5,"y":0.53},{"x":4.55,"y":0.24},{"x":4.6,"y":0.48},{"x":4.65,"y":0.22},{"x":4.7,"y":0.45},{"x":4.75,"y":0.16},{"x":4.8,"y":0.43},{"x":4.85,"y":0.47},{"x":4.9,"y":0.25},{"x":4.95,"y":0.41},{"x":5,"y":0.26},{"x":5.05,"y":0.43},{"x":5.1,"y":0.24},{"x":5.15,"y":0.37},{"x":5.2,"y":0.27},{"x":5.25,"y":0.35},{"x":5.3,"y":0.25},{"x":5.35,"y":0.33},{"x":5.4,"y":0.24},{"x":5.45,"y":0.32},{"x":5.5,"y":0.23},{"x":5.55,"y":0.31},{"x":5.6,"y":0.24},{"x":5.65,"y":0.29},{"x":5.7,"y":0.23},{"x":5.75,"y":0.28},{"x":5.8,"y":0.22},{"x":5.85,"y":0.27},{"x":5.9,"y":0.23},{"x":5.95,"y":0.5},{"x":6,"y":0.22},{"x":6.05,"y":0.26},{"x":6.1,"y":0.22},{"x":6.15,"y":0.25},{"x":6.2,"y":0.22},{"x":6.25,"y":0.25},{"x":6.3,"y":0.21},{"x":6.35,"y":0.33},{"x":6.4,"y":0.22},{"x":6.45,"y":0.25},{"x":6.5,"y":0.21},{"x":6.55,"y":0.26},{"x":6.6,"y":0.42},{"x":6.65,"y":0.22},{"x":6.7,"y":0.26},{"x":6.75,"y":0.22},{"x":6.8,"y":0.27},{"x":6.85,"y":0.23},{"x":6.9,"y":0.3},{"x":6.95,"y":0.23},{"x":7,"y":0.27},{"x":7.05,"y":0.22},{"x":7.1,"y":0.28},{"x":7.15,"y":0.23},{"x":7.2,"y":0.37},{"x":7.25,"y":0.22},{"x":7.3,"y":0.28},{"x":7.35,"y":0.23},{"x":7.4,"y":0.29},{"x":7.45,"y":0.39},{"x":7.5,"y":0.22},{"x":7.55,"y":0.28},{"x":7.6,"y":0.23},{"x":7.65,"y":0.3},{"x":7.7,"y":0.39},{"x":7.75,"y":0.21},{"x":7.8,"y":0.29},{"x":7.85,"y":0.22},{"x":7.9,"y":0.41},{"x":7.95,"y":0.21},{"x":8,"y":0.28},{"x":8.05,"y":0.2},{"x":8.1,"y":0.3},{"x":8.15,"y":0.42},{"x":8.2,"y":0.19},{"x":8.25,"y":0.27},{"x":8.3,"y":0.44},{"x":8.35,"y":0.18},{"x":8.4,"y":0.39},{"x":8.45,"y":0.18},{"x":8.5,"y":0.25},{"x":8.55,"y":0.37},{"x":8.6,"y":0.17},{"x":8.65,"y":0.23},{"x":8.7,"y":0.18},{"x":8.75,"y":0.3},{"x":8.8,"y":0.17},{"x":8.85,"y":0.21},{"x":8.9,"y":0.16},{"x":8.95,"y":0.19},{"x":9,"y":0.165},{"x":9.05,"y":0.18},{"x":9.1,"y":0.16},{"x":9.15,"y":0.175},{"x":9.2,"y":0.155},{"x":9.25,"y":0.17},{"x":9.3,"y":0.155},{"x":9.35,"y":0.165},{"x":9.4,"y":0.15},{"x":9.45,"y":0.17},{"x":9.5,"y":0.13},{"x":9.55,"y":0.18},{"x":9.6,"y":0.14},{"x":9.65,"y":0.19},{"x":9.7,"y":0.12},{"x":9.75,"y":0.2},{"x":9.8,"y":0.13},{"x":9.85,"y":0.2},{"x":9.9,"y":0.11},{"x":9.95,"y":0.21},{"x":10,"y":0.14},{"x":10.05,"y":0.21},{"x":10.1,"y":0.12},{"x":10.15,"y":0.22},{"x":10.2,"y":0.1},{"x":10.25,"y":0.21},{"x":10.3,"y":0.065},{"x":10.35,"y":0.22},{"x":10.4,"y":0.13},{"x":10.45,"y":0.21},{"x":10.5,"y":0.05},{"x":10.55,"y":0.22},{"x":10.6,"y":0.12},{"x":10.65,"y":0.21},{"x":10.7,"y":0.14},{"x":10.75,"y":0.22},{"x":10.8,"y":0.11},{"x":10.85,"y":0.21},{"x":10.9,"y":0.13},{"x":10.95,"y":0.22},{"x":11,"y":0.11},{"x":11.05,"y":0.21},{"x":11.08,"y":0.18},
{"x":3.017,"y":0.45},{"x":3.033,"y":0.35},{"x":3.075,"y":0.35},{"x":3.117,"y":0.36},{"x":3.133,"y":0.46},{"x":3.167,"y":0.46},{"x":3.183,"y":0.35},{"x":3.217,"y":0.36},{"x":3.233,"y":0.47},{"x":3.267,"y":0.46},{"x":3.283,"y":0.36},{"x":3.325,"y":0.36},{"x":3.367,"y":0.37},{"x":3.383,"y":0.47},{"x":3.417,"y":0.47},{"x":3.433,"y":0.36},{"x":3.467,"y":0.37},{"x":3.483,"y":0.48},{"x":3.517,"y":0.48},{"x":3.533,"y":0.37},{"x":3.575,"y":0.36},{"x":3.617,"y":0.37},{"x":3.633,"y":0.49},{"x":3.667,"y":0.48},{"x":3.683,"y":0.36},{"x":3.717,"y":0.36},{"x":3.733,"y":0.49},{"x":3.767,"y":0.49},{"x":3.783,"y":0.37},{"x":3.817,"y":0.36},{"x":3.833,"y":0.5},{"x":3.867,"y":0.49},{"x":3.883,"y":0.36},{"x":3.917,"y":0.37},{"x":3.933,"y":0.5},{"x":3.975,"y":0.49},{"x":4.017,"y":0.5},{"x":4.033,"y":0.36},{"x":4.067,"y":0.36},{"x":4.083,"y":0.5},{"x":4.117,"y":0.49},{"x":4.133,"y":0.36},{"x":4.167,"y":0.36},{"x":4.183,"y":0.49},{"x":4.225,"y":0.48},{"x":4.267,"y":0.49},{"x":4.283,"y":0.36},{"x":4.325,"y":0.35},{"x":4.367,"y":0.35},{"x":4.383,"y":0.48},{"x":4.417,"y":0.48},{"x":4.433,"y":0.35},{"x":4.475,"y":0.34},{"x":4.517,"y":0.34},{"x":4.533,"y":0.47},{"x":4.567,"y":0.46},{"x":4.583,"y":0.33},{"x":4.617,"y":0.33},{"x":4.633,"y":0.45},{"x":4.667,"y":0.44},{"x":4.683,"y":0.32},{"x":4.717,"y":0.31},{"x":4.733,"y":0.43},{"x":4.767,"y":0.42},{"x":4.783,"y":0.3},{"x":4.825,"y":0.3},{"x":4.867,"y":0.29},{"x":4.883,"y":0.41},{"x":4.917,"y":0.4},{"x":4.933,"y":0.29},{"x":4.967,"y":0.28},{"x":4.983,"y":0.39},
{"x":9.617,"y":0.18},{"x":9.633,"y":0.15},{"x":9.667,"y":0.15},{"x":9.683,"y":0.19},{"x":9.717,"y":0.19},{"x":9.733,"y":0.15},{"x":9.767,"y":0.15},{"x":9.783,"y":0.19},{"x":9.817,"y":0.19},{"x":9.833,"y":0.15},{"x":9.867,"y":0.16},{"x":9.883,"y":0.2},{"x":9.917,"y":0.2},{"x":9.933,"y":0.16},{"x":9.967,"y":0.16},{"x":9.983,"y":0.2},{"x":10.017,"y":0.2},{"x":10.033,"y":0.16},{"x":10.067,"y":0.16},{"x":10.083,"y":0.2},{"x":10.117,"y":0.21},{"x":10.133,"y":0.16},{"x":10.167,"y":0.16},{"x":10.183,"y":0.21},{"x":10.217,"y":0.2},{"x":10.233,"y":0.16},{"x":10.267,"y":0.16},{"x":10.283,"y":0.21},{"x":10.317,"y":0.2},{"x":10.333,"y":0.16},{"x":10.367,"y":0.16},{"x":10.383,"y":0.21},{"x":10.417,"y":0.2},{"x":10.433,"y":0.16},{"x":10.467,"y":0.17},{"x":10.483,"y":0.21},{"x":10.517,"y":0.2},{"x":10.533,"y":0.16},{"x":10.567,"y":0.16},{"x":10.583,"y":0.21},{"x":10.617,"y":0.2},{"x":10.633,"y":0.16},{"x":10.667,"y":0.16},{"x":10.683,"y":0.21},{"x":10.717,"y":0.2},{"x":10.733,"y":0.16},{"x":10.767,"y":0.16},{"x":10.783,"y":0.21},{"x":10.817,"y":0.2},{"x":10.833,"y":0.16},{"x":10.867,"y":0.16},{"x":10.883,"y":0.21},{"x":10.917,"y":0.2},{"x":10.933,"y":0.16},{"x":10.967,"y":0.16},{"x":10.983,"y":0.21},{"x":11.017,"y":0.2},{"x":11.033,"y":0.16}],
"c_ana": [{"x":0,"y":1},{"x":0.2,"y":0.993},{"x":0.42,"y":0.974},{"x":0.74,"y":0.916},{"x":0.97,"y":0.85},{"x":1.2,"y":0.766},{"x":1.44,"y":0.682},{"x":1.68,"y":0.597},{"x":1.91,"y":0.532},{"x":2.15,"y":0.487},{"x":2.38,"y":0.448},{"x":2.62,"y":0.422},{"x":2.93,"y":0.416},{"x":3.24,"y":0.425},{"x":3.55,"y":0.442},{"x":3.95,"y":0.455},{"x":4.34,"y":0.442},{"x":4.65,"y":0.416},{"x":4.96,"y":0.377},{"x":5.28,"y":0.331},{"x":5.59,"y":0.286},{"x":5.9,"y":0.253},{"x":6.22,"y":0.237},{"x":6.53,"y":0.234},{"x":7,"y":0.244},{"x":7.47,"y":0.25},{"x":7.86,"y":0.237},{"x":8.25,"y":0.208},{"x":8.65,"y":0.185},{"x":9.04,"y":0.169},{"x":9.35,"y":0.162},{"x":9.74,"y":0.172},{"x":10.13,"y":0.185},{"x":10.52,"y":0.192},{"x":10.9,"y":0.188},{"x":11.1,"y":0.183}],
"d_two": [{"x":0,"y":1},{"x":0.1,"y":1},{"x":0.2,"y":0.999},{"x":0.3,"y":0.996},{"x":0.4,"y":0.994},{"x":0.5,"y":0.988},{"x":0.6,"y":0.986},{"x":0.7,"y":0.978},{"x":0.77,"y":0.952},{"x":0.8,"y":0.972},{"x":0.9,"y":0.965},{"x":1,"y":0.958},{"x":1.04,"y":0.917},{"x":1.08,"y":0.955},{"x":1.16,"y":0.913},{"x":1.2,"y":0.946},{"x":1.3,"y":0.937},{"x":1.4,"y":0.885},{"x":1.45,"y":0.928},{"x":1.55,"y":0.865},{"x":1.6,"y":0.918},{"x":1.66,"y":0.859},{"x":1.7,"y":0.908},{"x":1.8,"y":0.9},{"x":1.82,"y":0.835},{"x":1.86,"y":0.898},{"x":1.9,"y":0.893},{"x":2.03,"y":0.816},{"x":2.08,"y":0.884},{"x":2.15,"y":0.872},{"x":2.2,"y":0.878},{"x":2.27,"y":0.811},{"x":2.32,"y":0.87},{"x":2.4,"y":0.774},{"x":2.45,"y":0.864},{"x":2.52,"y":0.61},{"x":2.57,"y":0.858},{"x":2.65,"y":0.8},{"x":2.7,"y":0.85},{"x":2.77,"y":0.753},{"x":2.82,"y":0.843},{"x":2.9,"y":0.838},{"x":2.93,"y":0.8},{"x":2.98,"y":0.834},{"x":3.05,"y":0.829},{"x":3.13,"y":0.673},{"x":3.18,"y":0.824},{"x":3.25,"y":0.729},{"x":3.3,"y":0.818},{"x":3.39,"y":0.751},{"x":3.44,"y":0.811},{"x":3.53,"y":0.764},{"x":3.58,"y":0.804},{"x":3.63,"y":0.562},{"x":3.68,"y":0.799},{"x":3.74,"y":0.734},{"x":3.8,"y":0.792},{"x":3.89,"y":0.738},{"x":3.94,"y":0.783},{"x":4.02,"y":0.676},{"x":4.07,"y":0.773},{"x":4.15,"y":0.517},{"x":4.2,"y":0.763},{"x":4.27,"y":0.595},{"x":4.32,"y":0.751},{"x":4.39,"y":0.686},{"x":4.44,"y":0.74},{"x":4.5,"y":0.593},{"x":4.55,"y":0.73},{"x":4.63,"y":0.664},{"x":4.68,"y":0.718},{"x":4.77,"y":0.611},{"x":4.82,"y":0.706},{"x":4.89,"y":0.656},{"x":4.94,"y":0.695},{"x":5,"y":0.69},{"x":5.11,"y":0.572},{"x":5.16,"y":0.677},{"x":5.24,"y":0.666},{"x":5.3,"y":0.664},{"x":5.4,"y":0.656},{"x":5.49,"y":0.615},{"x":5.53,"y":0.646},{"x":5.6,"y":0.64},{"x":5.7,"y":0.633},{"x":5.8,"y":0.627},{"x":5.9,"y":0.62},{"x":5.97,"y":0.606},{"x":6,"y":0.615},{"x":6.2,"y":0.605},{"x":6.4,"y":0.597},{"x":6.6,"y":0.59},{"x":6.8,"y":0.582},{"x":7,"y":0.573},{"x":7.2,"y":0.563},{"x":7.4,"y":0.554},{"x":7.6,"y":0.545},{"x":7.8,"y":0.535},{"x":8,"y":0.524},{"x":8.2,"y":0.514},{"x":8.4,"y":0.503},{"x":8.6,"y":0.492},{"x":8.8,"y":0.481},{"x":9,"y":0.471},{"x":9.2,"y":0.46},{"x":9.4,"y":0.454},{"x":9.53,"y":0.422},{"x":9.58,"y":0.449},{"x":9.7,"y":0.443},{"x":9.8,"y":0.438},{"x":9.9,"y":0.437},{"x":10,"y":0.434},{"x":10.1,"y":0.432},{"x":10.23,"y":0.362},{"x":10.28,"y":0.428},{"x":10.37,"y":0.392},{"x":10.42,"y":0.423},{"x":10.48,"y":0.383},{"x":10.53,"y":0.42},{"x":10.6,"y":0.416},{"x":10.7,"y":0.396},{"x":10.75,"y":0.414},{"x":10.85,"y":0.405},{"x":10.9,"y":0.41},{"x":11,"y":0.4},{"x":11.05,"y":0.405}],
"d_ana": [{"x":0,"y":1},{"x":0.3,"y":0.998},{"x":0.57,"y":0.989},{"x":1,"y":0.959},{"x":1.46,"y":0.928},{"x":1.9,"y":0.894},{"x":2.35,"y":0.868},{"x":2.8,"y":0.842},{"x":3.24,"y":0.82},{"x":3.69,"y":0.798},{"x":4.02,"y":0.777},{"x":4.35,"y":0.747},{"x":4.8,"y":0.708},{"x":5.24,"y":0.669},{"x":5.69,"y":0.634},{"x":6.14,"y":0.608},{"x":6.69,"y":0.587},{"x":7.25,"y":0.561},{"x":7.8,"y":0.535},{"x":8.36,"y":0.505},{"x":8.92,"y":0.474},{"x":9.48,"y":0.453},{"x":10.03,"y":0.435},{"x":10.59,"y":0.418},{"x":11.04,"y":0.404}]
},
"columns": 2,
"spacing": {"row": 62, "column": 151},
"resolve": {"legend": {"color": "independent", "strokeDash": "independent"}},
"concat": [
{"width": 1306, "height": 993, "title": {"text": "(a) δ=0"},
 "layer": [
  {"data": {"name": "a_two"}, "mark": {"type": "line", "strokeWidth": 3.5, "clip": true},
   "encoding": {
    "x": {"field": "x", "type": "quantitative", "scale": {"domain": [0, 12]}, "axis": {"values": [0,2,4,6,8,10,12], "format": "d", "title": "kΔx/β²", "titleFontStyle": "italic"}},
    "y": {"field": "y", "type": "quantitative", "scale": {"domain": [0, 1]}, "axis": {"values": [0.2,0.4,0.6,0.8,1.0], "format": ".1f", "title": "Magnitude correlation ψ₁₂"}},
    "color": {"datum": "Two-mic method", "type": "nominal", "scale": {"domain": ["Two-mic method", "Analytical"], "range": ["#2b2bf2", "#d40000"]}, "legend": {"title": null, "orient": "none", "legendX": 689, "legendY": 24, "symbolType": "M-1.4,0H1.4", "symbolSize": 4356, "labelOffset": 39, "rowPadding": 9, "labelLimit": 2000, "encode": {"symbols": {"update": {"strokeWidth": {"signal": "datum.value === 'Analytical' ? 8 : 3"}}}}}},
    "strokeDash": {"datum": "Two-mic method", "type": "nominal", "scale": {"domain": ["Two-mic method", "Analytical"], "range": [[1, 0], [26, 10]]}, "legend": {"title": null, "orient": "none", "legendX": 689, "legendY": 24, "symbolType": "M-1.4,0H1.4", "symbolSize": 4356, "labelOffset": 39, "rowPadding": 9, "labelLimit": 2000, "encode": {"symbols": {"update": {"strokeWidth": {"signal": "datum.value === 'Analytical' ? 8 : 3"}}}}}}
   }},
  {"data": {"name": "a_ana"}, "mark": {"type": "line", "strokeWidth": 9, "clip": true},
   "encoding": {
    "x": {"field": "x", "type": "quantitative"},
    "y": {"field": "y", "type": "quantitative"},
    "color": {"datum": "Analytical", "type": "nominal"},
    "strokeDash": {"datum": "Analytical", "type": "nominal"}
   }}
 ]},
{"width": 1306, "height": 993, "title": {"text": "(b) δ=1"},
 "layer": [
  {"data": {"name": "b_two"}, "mark": {"type": "line", "strokeWidth": 3.5, "clip": true},
   "encoding": {
    "x": {"field": "x", "type": "quantitative", "scale": {"domain": [0, 12]}, "axis": {"values": [0,2,4,6,8,10,12], "format": "d", "title": "kΔx/β²", "titleFontStyle": "italic"}},
    "y": {"field": "y", "type": "quantitative", "scale": {"domain": [0, 1]}, "axis": {"values": [0.2,0.4,0.6,0.8,1.0], "format": ".1f", "title": "Magnitude correlation ψ₁₂"}},
    "color": {"datum": "Two-mic method", "type": "nominal", "scale": {"domain": ["Two-mic method", "Analytical"], "range": ["#2b2bf2", "#d40000"]}, "legend": {"title": null, "orient": "none", "legendX": 689, "legendY": 24, "symbolType": "M-1.4,0H1.4", "symbolSize": 4356, "labelOffset": 39, "rowPadding": 9, "labelLimit": 2000, "encode": {"symbols": {"update": {"strokeWidth": {"signal": "datum.value === 'Analytical' ? 8 : 3"}}}}}},
    "strokeDash": {"datum": "Two-mic method", "type": "nominal", "scale": {"domain": ["Two-mic method", "Analytical"], "range": [[1, 0], [26, 10]]}, "legend": {"title": null, "orient": "none", "legendX": 689, "legendY": 24, "symbolType": "M-1.4,0H1.4", "symbolSize": 4356, "labelOffset": 39, "rowPadding": 9, "labelLimit": 2000, "encode": {"symbols": {"update": {"strokeWidth": {"signal": "datum.value === 'Analytical' ? 8 : 3"}}}}}}
   }},
  {"data": {"name": "b_ana"}, "mark": {"type": "line", "strokeWidth": 9, "clip": true, "interpolate": "monotone"},
   "encoding": {
    "x": {"field": "x", "type": "quantitative"},
    "y": {"field": "y", "type": "quantitative"},
    "color": {"datum": "Analytical", "type": "nominal"},
    "strokeDash": {"datum": "Analytical", "type": "nominal"}
   }}
 ]},
{"width": 1306, "height": 993, "title": {"text": "(c) δ=2"},
 "layer": [
  {"data": {"name": "c_two"}, "mark": {"type": "line", "strokeWidth": 3.5, "clip": true},
   "encoding": {
    "x": {"field": "x", "type": "quantitative", "scale": {"domain": [0, 12]}, "axis": {"values": [0,2,4,6,8,10,12], "format": "d", "title": "kΔx/β²", "titleFontStyle": "italic"}},
    "y": {"field": "y", "type": "quantitative", "scale": {"domain": [0, 1]}, "axis": {"values": [0.2,0.4,0.6,0.8,1.0], "format": ".1f", "title": "Magnitude correlation ψ₁₂"}},
    "color": {"datum": "Two-mic method", "type": "nominal", "scale": {"domain": ["Two-mic method", "Analytical"], "range": ["#2b2bf2", "#d40000"]}, "legend": {"title": null, "orient": "none", "legendX": 689, "legendY": 24, "symbolType": "M-1.4,0H1.4", "symbolSize": 4356, "labelOffset": 39, "rowPadding": 9, "labelLimit": 2000, "encode": {"symbols": {"update": {"strokeWidth": {"signal": "datum.value === 'Analytical' ? 8 : 3"}}}}}},
    "strokeDash": {"datum": "Two-mic method", "type": "nominal", "scale": {"domain": ["Two-mic method", "Analytical"], "range": [[1, 0], [26, 10]]}, "legend": {"title": null, "orient": "none", "legendX": 689, "legendY": 24, "symbolType": "M-1.4,0H1.4", "symbolSize": 4356, "labelOffset": 39, "rowPadding": 9, "labelLimit": 2000, "encode": {"symbols": {"update": {"strokeWidth": {"signal": "datum.value === 'Analytical' ? 8 : 3"}}}}}}
   }},
  {"data": {"name": "c_ana"}, "mark": {"type": "line", "strokeWidth": 9, "clip": true, "interpolate": "monotone"},
   "encoding": {
    "x": {"field": "x", "type": "quantitative"},
    "y": {"field": "y", "type": "quantitative"},
    "color": {"datum": "Analytical", "type": "nominal"},
    "strokeDash": {"datum": "Analytical", "type": "nominal"}
   }}
 ]},
{"width": 1306, "height": 993, "title": {"text": "(d) δ=5"},
 "layer": [
  {"data": {"name": "d_two"}, "mark": {"type": "line", "strokeWidth": 3.5, "clip": true},
   "encoding": {
    "x": {"field": "x", "type": "quantitative", "scale": {"domain": [0, 12]}, "axis": {"values": [0,2,4,6,8,10,12], "format": "d", "title": "kΔx/β²", "titleFontStyle": "italic"}},
    "y": {"field": "y", "type": "quantitative", "scale": {"domain": [0, 1]}, "axis": {"values": [0.2,0.4,0.6,0.8,1.0], "format": ".1f", "title": "Magnitude correlation ψ₁₂"}},
    "color": {"datum": "Two-mic method", "type": "nominal", "scale": {"domain": ["Two-mic method", "Analytical"], "range": ["#2b2bf2", "#d40000"]}, "legend": {"title": null, "orient": "none", "legendX": 689, "legendY": 24, "symbolType": "M-1.4,0H1.4", "symbolSize": 4356, "labelOffset": 39, "rowPadding": 9, "labelLimit": 2000, "encode": {"symbols": {"update": {"strokeWidth": {"signal": "datum.value === 'Analytical' ? 8 : 3"}}}}}},
    "strokeDash": {"datum": "Two-mic method", "type": "nominal", "scale": {"domain": ["Two-mic method", "Analytical"], "range": [[1, 0], [26, 10]]}, "legend": {"title": null, "orient": "none", "legendX": 689, "legendY": 24, "symbolType": "M-1.4,0H1.4", "symbolSize": 4356, "labelOffset": 39, "rowPadding": 9, "labelLimit": 2000, "encode": {"symbols": {"update": {"strokeWidth": {"signal": "datum.value === 'Analytical' ? 8 : 3"}}}}}}
   }},
  {"data": {"name": "d_ana"}, "mark": {"type": "line", "strokeWidth": 9, "clip": true, "interpolate": "monotone"},
   "encoding": {
    "x": {"field": "x", "type": "quantitative"},
    "y": {"field": "y", "type": "quantitative"},
    "color": {"datum": "Analytical", "type": "nominal"},
    "strokeDash": {"datum": "Analytical", "type": "nominal"}
   }}
 ]}
]
}
